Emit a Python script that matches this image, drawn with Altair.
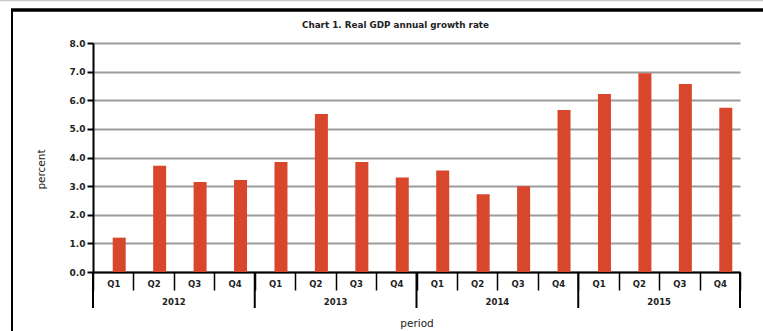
import altair as alt
import pandas as pd

# Real GDP annual growth rate, percent, by quarter
years = ["2012", "2013", "2014", "2015"]
quarters = ["Q1", "Q2", "Q3", "Q4"]
growth = [1.20, 3.71, 3.14, 3.21,
          3.84, 5.52, 3.84, 3.30,
          3.55, 2.72, 3.00, 5.66,
          6.22, 6.94, 6.57, 5.74]
y_ticks = [0, 1, 2, 3, 4, 5, 6, 7, 8]
chart_title = "Chart 1. Real GDP annual growth rate"

periods = [f"{y} {q}" for y in years for q in quarters]
bars_df = pd.DataFrame({"period": periods, "growth": growth})
# first quarter of each year marks the left edge of the year's group
year_start_df = pd.DataFrame({"period": [f"{y} Q1" for y in years]})
# year label sits on the boundary between Q2 and Q3
year_label_df = pd.DataFrame({"period": [f"{y} Q3" for y in years], "year": years})
year_end_df = pd.DataFrame({"period": [periods[-1]]})
frame_df = pd.DataFrame({"k": [0]})
title_df = pd.DataFrame({"text": [chart_title]})

W, H = 647, 229
FONT = "DejaVu Sans"
INK = "#222222"

x_scale = alt.Scale(domain=periods, paddingInner=0, paddingOuter=0)

bars = alt.Chart(bars_df).mark_bar(color="#D8462C", size=13, xOffset=6).encode(
    x=alt.X(
        "period:N", scale=x_scale, sort=periods,
        axis=alt.Axis(
            title="period", labelExpr="split(datum.value, ' ')[1]", labelAngle=0,
            tickBand="extent", tickSize=18, tickWidth=1.5, tickColor="black",
            domainColor="black", domainWidth=2, labelPadding=-11,
            labelFont=FONT, labelFontSize=8.5, labelFontWeight="bold", labelColor=INK,
            titleFont=FONT, titleFontSize=10.5, titleFontWeight="normal", titleColor=INK,
            titleY=51, titleBaseline="middle", grid=False,
        ),
    ),
    y=alt.Y(
        "growth:Q", scale=alt.Scale(domain=[0, 8], nice=False),
        axis=alt.Axis(
            title="percent", values=y_ticks, format=".1f",
            tickSize=6, tickWidth=2, tickColor="black",
            domainColor="black", domainWidth=2,
            grid=True, gridColor="#9b9b9b", gridWidth=2,
            labelFont=FONT, labelFontSize=9, labelFontWeight="bold", labelColor=INK,
            labelPadding=2,
            titleFont=FONT, titleFontSize=10.5, titleFontWeight="normal", titleColor=INK,
            titleX=-52, titleY=126, titleAngle=270, titleBaseline="middle", titleAlign="center",
        ),
    ),
)

year_lines = alt.Chart(year_start_df).mark_rule(color="black", strokeWidth=2).encode(
    x=alt.X("period:N", scale=x_scale, bandPosition=0),
    y=alt.value(H), y2=alt.value(H + 36),
)

end_line = alt.Chart(year_end_df).mark_rule(color="black", strokeWidth=2).encode(
    x=alt.X("period:N", scale=x_scale, bandPosition=1),
    y=alt.value(H), y2=alt.value(H + 36),
)

year_labels = alt.Chart(year_label_df).mark_text(
    font=FONT, fontSize=8.5, fontWeight="bold", color=INK, baseline="middle"
).encode(
    x=alt.X("period:N", scale=x_scale, bandPosition=0),
    y=alt.value(H + 30),
    text="year:N",
)

# chart heading inside the frame
heading = alt.Chart(title_df).mark_text(
    font=FONT, fontSize=8.8, fontWeight="bold", color=INK, baseline="middle", align="center"
).encode(
    x=alt.value(W / 2 - 21), y=alt.value(-18), text="text:N"
)

# page frame around the chart
top_gray = alt.Chart(frame_df).mark_rule(color="#c8c8c8", strokeWidth=1.5).encode(
    x=alt.value(-93), x2=alt.value(W + 23), y=alt.value(-42.5)
)
top_black = alt.Chart(frame_df).mark_rule(color="black", strokeWidth=3.5).encode(
    x=alt.value(-82), x2=alt.value(W + 23), y=alt.value(-33)
)
left_edge = alt.Chart(frame_df).mark_rule(color="black", strokeWidth=2).encode(
    x=alt.value(-81), y=alt.value(-33), y2=alt.value(H + 59)
)

chart = alt.layer(
    top_gray, top_black, left_edge, heading, bars, year_lines, end_line, year_labels
).properties(
    width=W, height=H,
    padding={"left": 93, "top": 43, "right": 23, "bottom": 59},
    autosize="none",
    background="white",
).configure_view(stroke=None)

chart.save("out.html", embed_options={"renderer": "svg", "actions": False})
